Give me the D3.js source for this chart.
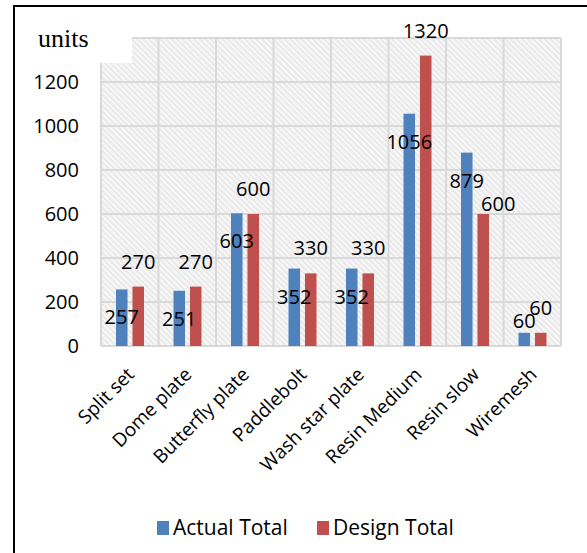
<!DOCTYPE html>
<html>
<head>
<meta charset="utf-8">
<script src="https://cdn.jsdelivr.net/npm/d3@7"></script>
<style>
  body { margin: 0; background: #fff; }
  svg text { font-family: "Open Sans", Lato, sans-serif; fill: #000; }
</style>
</head>
<body>
<svg id="chart" width="587" height="553"></svg>
<script>
// chart data
var categories = ["Split set", "Dome plate", "Butterfly plate", "Paddlebolt", "Wash star plate", "Resin Medium", "Resin slow", "Wiremesh"];
var seriesNames = ["Actual Total", "Design Total"];
var actualTotal = [257, 251, 603, 352, 352, 1056, 879, 60];
var designTotal = [270, 270, 600, 330, 330, 1320, 600, 60];
var yTicks = [0, 200, 400, 600, 800, 1000, 1200];
var colors = ["#4f81bd", "#c0504d"];

const svg = d3.select("#chart"),
      margin = {top: 38, right: 26, bottom: 207, left: 101},
      width = 587 - margin.left - margin.right,
      height = 553 - margin.top - margin.bottom;

// outer frame (only left and top show in the picture)
svg.append("rect")
   .attr("x", 14).attr("y", 6)
   .attr("width", 700).attr("height", 700)
   .attr("fill", "none").attr("stroke", "#000").attr("stroke-width", 2);

// hatched plot background
var defs = svg.append("defs");
var pat = defs.append("pattern")
   .attr("id", "hatch")
   .attr("patternUnits", "userSpaceOnUse")
   .attr("width", 4).attr("height", 4)
   .attr("patternTransform", "rotate(-45)");
pat.append("rect").attr("width", 4).attr("height", 4).attr("fill", "#f7f7f7");
pat.append("rect").attr("width", 2).attr("height", 4).attr("fill", "#e9e9e9");

const g = svg.append("g").attr("transform", `translate(${margin.left},${margin.top})`);

const x = d3.scaleBand().domain(categories).range([0, width]).padding(0);
const x1 = d3.scaleBand().domain(seriesNames).range([15, 43]).paddingInner(0.3);
const y = d3.scaleLinear().domain([0, 1400]).range([height, 0]);

g.append("rect")
 .attr("width", width).attr("height", height)
 .attr("fill", "url(#hatch)");

// grid lines
g.selectAll(".hgrid")
 .data(d3.range(0, 1401, 200))
 .enter().append("line")
   .attr("x1", 0).attr("x2", width)
   .attr("y1", d => y(d)).attr("y2", d => y(d))
   .attr("stroke", "#d9d9d9").attr("stroke-width", 2);

g.selectAll(".vgrid")
 .data(categories.concat(["end"]))
 .enter().append("line")
   .attr("x1", (d, i) => i * x.step()).attr("x2", (d, i) => i * x.step())
   .attr("y1", 0).attr("y2", height)
   .attr("stroke", "#d9d9d9").attr("stroke-width", 2);

// white box behind the "units" label
svg.append("rect")
   .attr("x", 99).attr("y", 36)
   .attr("width", 33).attr("height", 27)
   .attr("fill", "#fff");
svg.append("text")
   .attr("x", 38).attr("y", 47)
   .style("font-family", "'Liberation Serif', 'Times New Roman', serif")
   .style("font-size", "26px")
   .text("units");

// axes
g.append("g")
  .attr("class", "axis axis-y")
  .call(d3.axisLeft(y).tickValues(yTicks).tickFormat(d3.format("d")).tickSize(0).tickPadding(22))
  .call(a => a.select(".domain").remove())
  .selectAll("text")
    .style("font-family", "'Open Sans', sans-serif")
    .style("font-size", "20px")
    .attr("fill", "#000");

g.append("g")
  .attr("class", "axis axis-x")
  .attr("transform", `translate(0,${height})`)
  .call(d3.axisBottom(x).tickSize(0).tickPadding(0))
  .call(a => a.select(".domain").remove())
  .selectAll("text")
    .style("font-family", "'Open Sans', sans-serif")
    .style("font-size", "19px")
    .attr("fill", "#000")
    .style("text-anchor", "end")
    .attr("x", -17)
    .attr("y", 25)
    .attr("dy", "0")
    .attr("transform", "rotate(-45)");

// bars
var rows = categories.map((c, i) => ({cat: c, vals: [actualTotal[i], designTotal[i]]}));

var groups = g.selectAll(".grp")
  .data(rows)
  .enter().append("g")
    .attr("transform", d => `translate(${x(d.cat)},0)`);

groups.selectAll("rect")
  .data(d => d.vals.map((v, k) => ({key: seriesNames[k], v: v, k: k})))
  .enter().append("rect")
    .attr("x", d => x1(d.key))
    .attr("y", d => y(d.v))
    .attr("width", x1.bandwidth())
    .attr("height", d => height - y(d.v))
    .attr("fill", d => colors[d.k]);

// value labels: actual sits inside the bar top, design sits above
// a couple of labels were nudged in the original
var nudges = {"0-7": [0, -40], "1-6": [15, 15]};
groups.selectAll(".lbl")
  .data((d, i) => d.vals.map((v, k) => ({key: seriesNames[k], v: v, k: k, i: i})))
  .enter().append("text")
    .attr("text-anchor", "middle")
    .attr("dy", "0.35em")
    .style("font-size", "20px")
    .attr("x", d => x1(d.key) + x1.bandwidth() / 2 + (nudges[d.k + "-" + d.i] || [0, 0])[0])
    .attr("y", d => y(d.v) + (d.k == 0 ? 28 : -25) + (nudges[d.k + "-" + d.i] || [0, 0])[1])
    .text(d => d.v);

// legend
var legend = svg.append("g").attr("transform", "translate(157,521)");
var items = legend.selectAll(".item")
  .data(seriesNames)
  .enter().append("g")
    .attr("transform", (d, i) => `translate(${i * 160},0)`);
items.append("rect")
  .attr("width", 12).attr("height", 14)
  .attr("fill", (d, i) => colors[i]);
items.append("text")
  .attr("x", 16).attr("y", 14)
  .style("font-size", "21px")
  .text(d => d);
</script>
</body>
</html>
